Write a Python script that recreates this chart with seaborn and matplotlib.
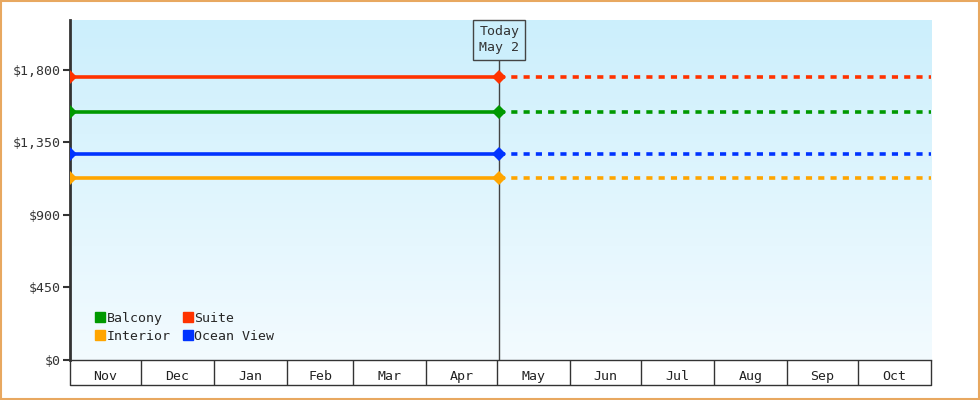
import numpy as np
import pandas as pd
import matplotlib
matplotlib.use("Agg")
import matplotlib.pyplot as plt
from matplotlib.patches import Patch, Rectangle
import seaborn as sns

# data
cabins = ["Balcony", "Suite", "Interior", "Ocean View"]
prices = [1540, 1757, 1130, 1280]
colors = {"Balcony": "#009900", "Suite": "#ff3300", "Interior": "#ffa500", "Ocean View": "#0033ff"}
start = pd.Timestamp("2024-11-01")
today = pd.Timestamp("2025-05-02")
end = pd.Timestamp("2025-11-01")
months = pd.date_range(start, end, freq="MS")
yticks = [0, 450, 900, 1350, 1800]

sns.set_style("white")
plt.rcParams["font.family"] = ["DejaVu Sans Mono"]

past = pd.DataFrame([(c, d, p) for c, p in zip(cabins, prices) for d in (start, today)],
                    columns=["cabin", "date", "price"])
future = pd.DataFrame([(c, d, p) for c, p in zip(cabins, prices) for d in (today, end)],
                      columns=["cabin", "date", "price"])

fig = plt.figure(figsize=(9.8, 4), dpi=100)
ax = fig.add_axes([70 / 980, 40 / 400, 861 / 980, 340 / 400])

# gradient background
grad = np.linspace(0, 1, 256).reshape(-1, 1)
cmap = matplotlib.colors.LinearSegmentedColormap.from_list("bg", ["#cceffc", "#f3fbff"])
ax.imshow(grad, aspect="auto", cmap=cmap, extent=[0, 1, 0, 1], transform=ax.transAxes, zorder=0)

sns.lineplot(data=future, x="date", y="price", hue="cabin", palette=colors, lw=2.6,
             dashes=False, legend=False, ax=ax, zorder=2)
for l in ax.lines:
    l.set_linestyle((0, (1.7, 1.7)))
sns.lineplot(data=past, x="date", y="price", hue="cabin", palette=colors, lw=2.6,
             marker="D", markersize=7, markeredgewidth=0, legend=False, ax=ax, zorder=3)

ax.set_xlim(start, end)
ax.set_ylim(0, 2110)
ax.set_xlabel("")
ax.set_ylabel("")

ax.set_yticks(yticks)
ax.set_yticklabels(["${:,}".format(v) for v in yticks], fontsize=9.5, color="#333333")
ax.tick_params(axis="y", length=5, width=1.5, color="#333333", left=True, pad=2)

mids = [a + (b - a) / 2 for a, b in zip(months[:-1], months[1:])]
ax.set_xticks(mids)
ax.set_xticklabels([m.strftime("%b") for m in months[:-1]], fontsize=9.5, color="#222222")
ax.tick_params(axis="x", length=0, pad=7)
ax.set_xticks(months, minor=True)
ax.tick_params(axis="x", which="minor", length=18, width=1, color="#333333", bottom=True)

for s in ["top", "right"]:
    ax.spines[s].set_visible(False)
ax.spines["left"].set_linewidth(2)
ax.spines["left"].set_color("#333333")
ax.spines["bottom"].set_linewidth(1)
ax.spines["bottom"].set_color("#333333")
ax.plot([0, 1], [-25 / 340, -25 / 340], transform=ax.transAxes, color="#333333", lw=1, clip_on=False)

# today marker
ax.axvline(today, ymax=1 - 40 / 340, color="#444444", lw=1, zorder=1)
ax.text(today, 1 - 20 / 340, "Today\nMay 2", transform=ax.get_xaxis_transform(), ha="center",
        va="center", fontsize=9.5, color="#333333", linespacing=1.3,
        bbox=dict(boxstyle="square,pad=0.45", fc="#cceffc", ec="#444444", lw=1))

handles = [Patch(color=colors[c], label=c) for c in ["Balcony", "Interior", "Suite", "Ocean View"]]
ax.legend(handles=handles, ncol=2, loc="lower left", bbox_to_anchor=(0.015, 0.015), frameon=False,
          fontsize=9.5, handlelength=0.8, handleheight=0.8, handletextpad=0.1, columnspacing=0.9,
          labelspacing=0.4)

fig.patches.append(Rectangle((0.001, 0.002), 0.998, 0.996, transform=fig.transFigure,
                             fill=False, ec="#e8a860", lw=1.5))
fig.savefig("out.png", dpi=100)
